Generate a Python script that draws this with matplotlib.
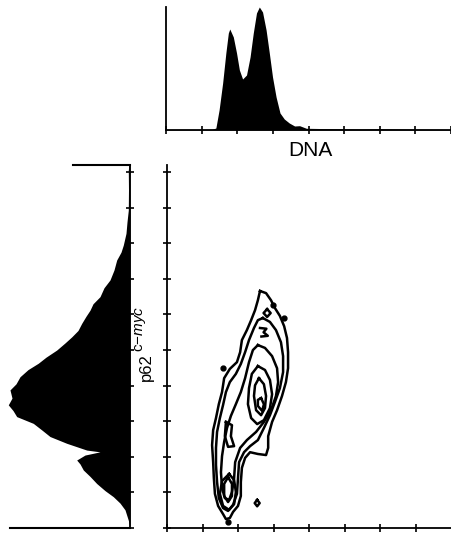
import matplotlib
matplotlib.use('Agg')
import matplotlib.pyplot as plt

plt.rcParams['font.family'] = ['Liberation Sans', 'DejaVu Sans']
plt.rcParams['mathtext.fontset'] = 'custom'
plt.rcParams['mathtext.rm'] = 'Liberation Sans'
plt.rcParams['mathtext.it'] = 'Liberation Sans:italic'

# DNA histogram (position on DNA axis, height)
dna_pos = [0.0, 0.5, 1.0, 1.30, 1.40, 1.49, 1.59, 1.68, 1.75, 1.79, 1.89, 1.98,
           2.06, 2.15, 2.26, 2.36, 2.45, 2.54, 2.62, 2.71, 2.81, 2.90, 2.99,
           3.09, 3.20, 3.32, 3.46, 3.61, 3.75, 3.94, 4.3, 5.0, 5.5, 6.0, 7.0, 8.0]
dna_count = [0.5, 0.6, 0.5, 0.6, 2, 20, 47, 77, 97, 101, 93, 77,
             60, 51, 55, 73, 97, 117, 123, 118, 100, 77, 53,
             33, 17, 11, 7, 4, 4.3, 1.7, 1.5, 1.2, 1.0, 1.3, 0.8, 0.5]

# p62 c-myc histogram (position on p62 axis, height)
myc_pos = [10.2, 10.06, 9.5, 8.93, 8.6, 8.28, 7.95, 7.75, 7.53, 7.25, 6.97, 6.75,
           6.50, 6.30, 6.12, 5.95, 5.75, 5.55, 5.37, 5.20, 5.00, 4.80, 4.63,
           4.45, 4.25, 4.05, 3.88, 3.65, 3.46, 3.30, 3.13, 2.94, 2.75, 2.57,
           2.38, 2.19, 2.14, 2.05, 1.91, 1.80, 1.63, 1.45, 1.25, 1.05, 0.88,
           0.70, 0.51, 0.22, 0.04, 0.0]
myc_count = [1.0, 1.7, 1.5, 1.7, 3.0, 4.0, 6.7, 9.0, 13.3, 16.0, 20.0, 26.0,
             30.0, 37.0, 40.0, 44.0, 48.3, 52.0, 58.3, 65.0, 73.3, 84.0, 91.7,
             102.0, 110.0, 114.0, 120.0, 118.0, 121.7, 117.0, 113.3, 96.7, 88.0, 80.0,
             63.3, 43.3, 30.0, 45.0, 53.3, 50.0, 46.7, 40.0, 33.3, 25.0, 16.7,
             10.0, 5.0, 1.7, 0.0, 0.0]

# contour lines of the DNA / p62 scatter, by level
lvl1_x = [2.62, 2.79, 2.93, 3.04, 3.18, 3.30, 3.38, 3.41, 3.41, 3.35, 3.24, 3.10,
          2.96, 2.85, 2.85, 2.79, 2.56, 2.34, 2.20, 2.11, 2.08, 2.08, 2.00, 1.86,
          1.77, 1.66, 1.58, 1.44, 1.35, 1.32, 1.30, 1.27, 1.30, 1.38, 1.46, 1.55,
          1.61, 1.77, 1.97, 2.06, 2.11, 2.25, 2.37, 2.48, 2.56, 2.62]
lvl1_y = [6.66, 6.60, 6.40, 6.18, 5.96, 5.67, 5.34, 4.94, 4.49, 4.10, 3.71, 3.31,
          2.98, 2.58, 2.25, 2.05, 2.08, 2.13, 1.97, 1.69, 1.29, 0.90, 0.62, 0.45,
          0.28, 0.25, 0.39, 0.62, 0.96, 1.40, 1.85, 2.33, 2.75, 3.09, 3.48, 3.82,
          4.21, 4.47, 4.66, 4.94, 5.28, 5.56, 5.84, 6.12, 6.40, 6.66]

lvl2_x = [2.70, 2.90, 3.07, 3.21, 3.27, 3.27, 3.18, 3.04, 2.90, 2.73, 2.56, 2.34,
          2.17, 2.03, 2.00, 1.97, 1.86, 1.72, 1.58, 1.46, 1.41, 1.38, 1.38, 1.41,
          1.49, 1.58, 1.66, 1.77, 1.94, 2.08, 2.20, 2.31, 2.45, 2.56, 2.70]
lvl2_y = [5.90, 5.79, 5.56, 5.22, 4.83, 4.38, 3.93, 3.54, 3.17, 2.81, 2.47, 2.30,
          2.13, 1.85, 1.40, 0.96, 0.65, 0.48, 0.56, 0.84, 1.29, 1.77, 2.25, 2.70,
          3.09, 3.46, 3.82, 4.10, 4.33, 4.61, 4.94, 5.28, 5.62, 5.84, 5.90]

lvl3_x = [2.56, 2.76, 2.96, 3.10, 3.13, 3.07, 2.93, 2.73, 2.51, 2.25, 2.06, 1.92,
          1.89, 1.83, 1.75, 1.63, 1.55, 1.52, 1.55, 1.61, 1.69, 1.80, 1.94, 2.08,
          2.20, 2.31, 2.42, 2.56]
lvl3_y = [5.14, 5.06, 4.83, 4.49, 4.10, 3.71, 3.31, 2.98, 2.70, 2.47, 2.25, 1.85,
          1.40, 1.01, 0.79, 0.84, 1.12, 1.57, 2.02, 2.42, 2.81, 3.15, 3.48, 3.82,
          4.21, 4.66, 5.00, 5.14]

lvl4_x = [2.56, 2.76, 2.90, 2.96, 2.90, 2.73, 2.54, 2.37, 2.28, 2.31, 2.39, 2.56]
lvl4_y = [4.55, 4.44, 4.16, 3.76, 3.37, 3.03, 2.92, 3.09, 3.48, 3.93, 4.33, 4.55]
lvl4b_x = [1.75, 1.89, 1.94, 1.89, 1.75, 1.58, 1.49, 1.55, 1.75]
lvl4b_y = [1.52, 1.35, 1.01, 0.67, 0.51, 0.62, 0.96, 1.32, 1.52]

lvl5_x = [2.59, 2.73, 2.79, 2.76, 2.65, 2.51, 2.45, 2.48, 2.59]
lvl5_y = [4.21, 4.04, 3.71, 3.37, 3.17, 3.31, 3.71, 4.01, 4.21]
lvl5b_x = [1.72, 1.83, 1.83, 1.72, 1.61, 1.61, 1.72]
lvl5b_y = [1.43, 1.24, 0.90, 0.73, 0.90, 1.24, 1.43]

lvl6_x = [2.65, 2.73, 2.68, 2.56, 2.56, 2.65]
lvl6_y = [3.65, 3.48, 3.29, 3.43, 3.60, 3.65]

finger_x = [1.66, 1.83, 1.80, 1.89, 1.72, 1.63, 1.66]
finger_y = [2.98, 2.89, 2.58, 2.30, 2.28, 2.58, 2.98]

small_x = [2.82, 2.92, 2.82, 2.72, 2.82]
small_y = [6.15, 6.04, 5.93, 6.04, 6.15]
three_x = [2.62, 2.80, 2.72, 2.84, 2.66]
three_y = [5.62, 5.60, 5.50, 5.40, 5.38]
ring_x = [2.54, 2.61, 2.54, 2.47, 2.54]
ring_y = [0.79, 0.70, 0.61, 0.70, 0.79]

dots_x = [2.99, 3.30, 1.58, 1.72]
dots_y = [6.26, 5.90, 4.49, 0.18]

dna_ticks = [0, 1, 2, 3, 4, 5, 6, 7, 8]
main_xticks = [0, 1, 2, 3, 4, 5, 6, 7]
myc_ticks = [0, 1, 2, 3, 4, 5, 6, 7, 8, 9, 10]

W, H = 451, 534
fig = plt.figure(figsize=(W / 100, H / 100), dpi=100)

def box(l, t, r, b):
    return [l / W, 1 - b / H, (r - l) / W, (b - t) / H]

lw = 1.8

# main contour panel
ax = fig.add_axes(box(167, 165, 451, 528))
contours = [(lvl1_x, lvl1_y), (lvl2_x, lvl2_y), (lvl3_x, lvl3_y),
            (lvl4_x, lvl4_y), (lvl4b_x, lvl4b_y), (lvl5_x, lvl5_y),
            (lvl5b_x, lvl5b_y), (lvl6_x, lvl6_y), (finger_x, finger_y),
            (small_x, small_y), (three_x, three_y), (ring_x, ring_y)]
for cx, cy in contours:
    ax.plot(cx, cy, color='black', lw=lw, solid_joinstyle='round')
ax.plot(dots_x, dots_y, 'o', color='black', ms=3.5)
ax.set_xlim(0, 8.0)
ax.set_ylim(0, 10.2)
ax.set_xticks(main_xticks)
ax.set_yticks(myc_ticks)
ax.set_xticklabels([])
ax.set_yticklabels([])
ax.tick_params(direction='inout', length=6, width=1.2)
for s in ['top', 'right']:
    ax.spines[s].set_visible(False)
for s in ['left', 'bottom']:
    ax.spines[s].set_linewidth(1.3)

# DNA histogram on top
axt = fig.add_axes(box(166, 7, 451, 130))
axt.fill_between(dna_pos, 0, dna_count, color='black', lw=0)
axt.set_xlim(0, 8.0)
axt.set_ylim(0, 123)
axt.set_xticks(dna_ticks)
axt.set_xticklabels([])
axt.set_yticks([])
axt.tick_params(direction='inout', length=6, width=1.2)
for s in ['top', 'right']:
    axt.spines[s].set_visible(False)
for s in ['left', 'bottom']:
    axt.spines[s].set_linewidth(1.3)

# p62 histogram on the left
axl = fig.add_axes(box(5, 165, 130, 528))
axl.fill_betweenx(myc_pos, 0, myc_count, color='black', lw=0)
axl.set_xlim(125, 0)
axl.set_ylim(0, 10.2)
axl.yaxis.tick_right()
axl.set_yticks(myc_ticks)
axl.set_yticklabels([])
axl.set_xticks([])
axl.tick_params(direction='inout', length=6, width=1.2)
for s in ['top', 'left', 'bottom']:
    axl.spines[s].set_visible(False)
axl.spines['right'].set_linewidth(1.3)
axl.plot([57, 0], [10.2, 10.2], color='black', lw=1.5, clip_on=False)
axl.plot([120, 0], [0, 0], color='black', lw=1.5, clip_on=False)

fig.text(310 / W, 1 - 150 / H, 'DNA', ha='center', va='center', fontsize=15)
fig.text(146 / W, 1 - 381 / H, 'p62', ha='center', va='bottom',
         rotation=90, fontsize=12)
fig.text(140 / W, 1 - 352 / H, 'c\u2212$\\mathit{myc}$', ha='center', va='bottom',
         rotation=90, fontsize=11)

fig.savefig('out.png', dpi=100)
